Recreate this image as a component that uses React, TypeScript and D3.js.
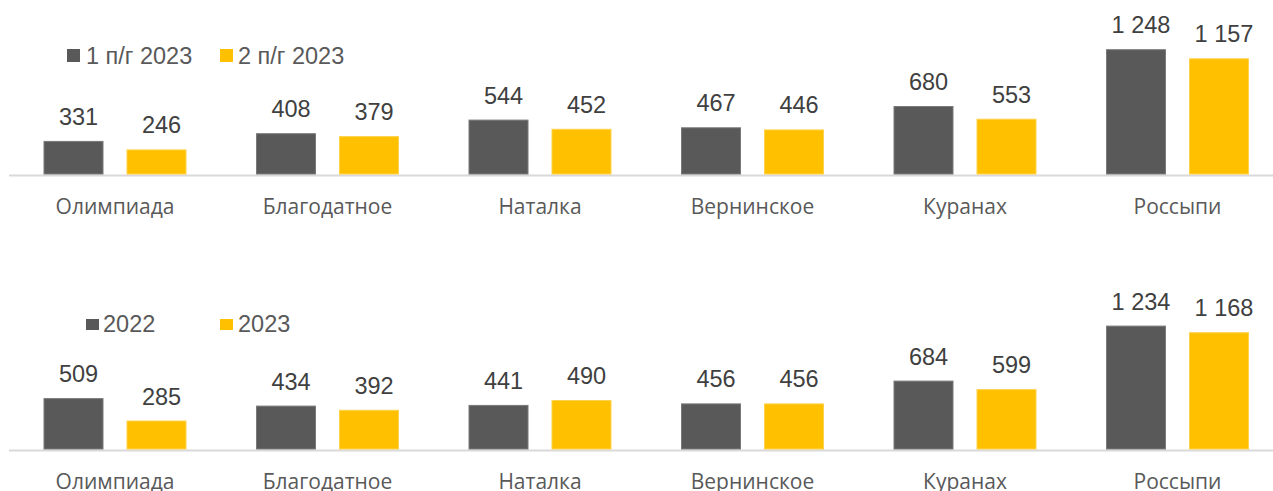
import React from "react";
import * as d3 from "d3";

const categories = ["Олимпиада", "Благодатное", "Наталка", "Вернинское", "Куранах", "Россыпи"];
const topSeries = ["1 п/г 2023", "2 п/г 2023"];
const topH1 = [331, 408, 544, 467, 680, 1248];
const topH2 = [246, 379, 452, 446, 553, 1157];
const bottomSeries = ["2022", "2023"];
const bot2022 = [509, 434, 441, 456, 684, 1234];
const bot2023 = [285, 392, 490, 456, 599, 1168];
const colors = ["#595959", "#FFC000"];
const strokes = ["#7a7a7a", "#ffd24d"];

const W = 1273;
const H = 491;

const fmt = (v: number) => {
  const s = String(v);
  return s.length > 3 ? s.slice(0, s.length - 3) + " " + s.slice(-3) : s;
};

const x0 = d3.scaleBand<string>().domain(categories).range([8.75, 1283.75]).padding(0);

function Panel({ base, a, b, series, legend }: any) {
  const y = d3.scaleLinear().domain([0, 1000]).range([base, base - 100]);
  const x1 = d3.scaleBand<string>().domain(series).range([0, 143]).paddingInner(0.277).paddingOuter(0);
  const vals = [a, b];
  return (
    <g>
      <line x1={9} x2={W} y1={base + 1.5} y2={base + 1.5} stroke="#d9d9d9" strokeWidth={2} />
      {categories.map((c, i) => {
        const cx = (x0(c) as number) + x0.bandwidth() / 2;
        const gx = cx - 71.5;
        return (
          <g key={c}>
            {series.map((s: string, k: number) => {
              const v = vals[k][i];
              const bx = gx + (x1(s) as number);
              const by = y(v);
              return (
                <g key={s}>
                  <rect x={bx + 0.5} y={by + 0.5} width={x1.bandwidth() - 1} height={base - by - 0.5}
                    fill={colors[k]} stroke={strokes[k]} strokeWidth={1} />
                  <text x={bx + x1.bandwidth() / 2 + 5} y={by - 16} textAnchor="middle"
                    fontFamily="'Liberation Sans', Arial, sans-serif" fontSize={23.5} fill="#404040">
                    {fmt(v)}
                  </text>
                </g>
              );
            })}
            <text x={cx} y={base + 40} textAnchor="middle" fontFamily="'Open Sans', sans-serif"
              fontSize={21} fill="#595959">{c}</text>
          </g>
        );
      })}
      {legend.map((l: any, k: number) => (
        <g key={k}>
          <rect x={l.sx} y={l.sy} width={13} height={l.sh} fill={colors[k]} />
          <text x={l.tx} y={l.ty} fontFamily="'Liberation Sans', Arial, sans-serif" fontSize={23.5} fill="#595959">
            {series[k]}
          </text>
        </g>
      ))}
    </g>
  );
}

export default function App() {
  return (
    <svg width={W} height={H} style={{ position: "absolute", left: 0, top: 0, background: "#fff" }}>
      <rect width={W} height={H} fill="#fff" />
      <Panel base={174} a={topH1} b={topH2} series={topSeries}
        legend={[{ sx: 67, sy: 49, sh: 13, tx: 86, ty: 64 }, { sx: 220, sy: 49, sh: 13, tx: 238, ty: 64 }]} />
      <Panel base={449} a={bot2022} b={bot2023} series={bottomSeries}
        legend={[{ sx: 86, sy: 319, sh: 11, tx: 103, ty: 332 }, { sx: 220, sy: 319, sh: 11, tx: 238, ty: 332 }]} />
    </svg>
  );
}
